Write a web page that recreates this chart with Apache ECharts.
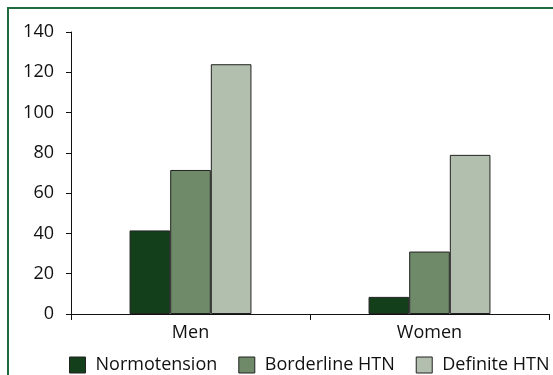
<!DOCTYPE html>
<html><head><meta charset="utf-8">
<script src="https://cdn.jsdelivr.net/npm/echarts@6/dist/echarts.min.js"></script>
<style>
html,body{margin:0;padding:0;background:#fff;overflow:hidden}
#frame{position:absolute;left:7px;top:7px;width:700px;height:500px;border-top:2px solid #1f6b3f;border-left:2px solid #1f6b3f;box-sizing:border-box}
#c{position:absolute;left:0;top:0;width:553px;height:375px}
</style></head>
<body>
<div id="frame"></div>
<div id="c"></div>
<script>
var categories = ['Men', 'Women'];
var normotension = [41.5, 8.5];
var borderline = [71.5, 31];
var definite = [124, 79];
var seriesNames = ['Normotension', 'Borderline HTN', 'Definite HTN'];
var colors = ['#133f1b', '#6e8a68', '#b3bfae'];

var chart = echarts.init(document.getElementById('c'));
var font = 'Open Sans';
function mk(name, data, color) {
  return {
    name: name, type: 'bar', data: data, barGap: '0%', barCategoryGap: '49%',
    itemStyle: { color: color, borderColor: '#222', borderWidth: 1 }
  };
}
chart.setOption({
  animation: false,
  grid: { left: 71, right: 4, top: 32, bottom: 61 },
  legend: {
    top: 356, left: 69, width: 484, padding: 0,
    itemWidth: 16, itemHeight: 16, itemGap: 21,
    icon: 'rect',
    textStyle: { fontFamily: font, fontSize: 18, color: '#111', padding: [0, 0, 0, 5] },
    itemStyle: { borderColor: '#222', borderWidth: 1 },
    data: seriesNames
  },
  xAxis: {
    type: 'category', data: categories,
    axisLine: { lineStyle: { color: '#111', width: 1 } },
    axisTick: { show: true, length: 6, lineStyle: { color: '#111' } },
    axisLabel: { fontFamily: font, fontSize: 18, color: '#111', margin: 10 }
  },
  yAxis: {
    type: 'value', min: 0, max: 140, interval: 20,
    splitLine: { show: false },
    axisLine: { show: true, lineStyle: { color: '#111', width: 1 } },
    axisTick: { show: true, length: 5, lineStyle: { color: '#111' } },
    axisLabel: { fontFamily: font, fontSize: 18, color: '#111', margin: 17 }
  },
  series: [
    mk(seriesNames[0], normotension, colors[0]),
    mk(seriesNames[1], borderline, colors[1]),
    mk(seriesNames[2], definite, colors[2])
  ]
});
</script>
</body></html>
